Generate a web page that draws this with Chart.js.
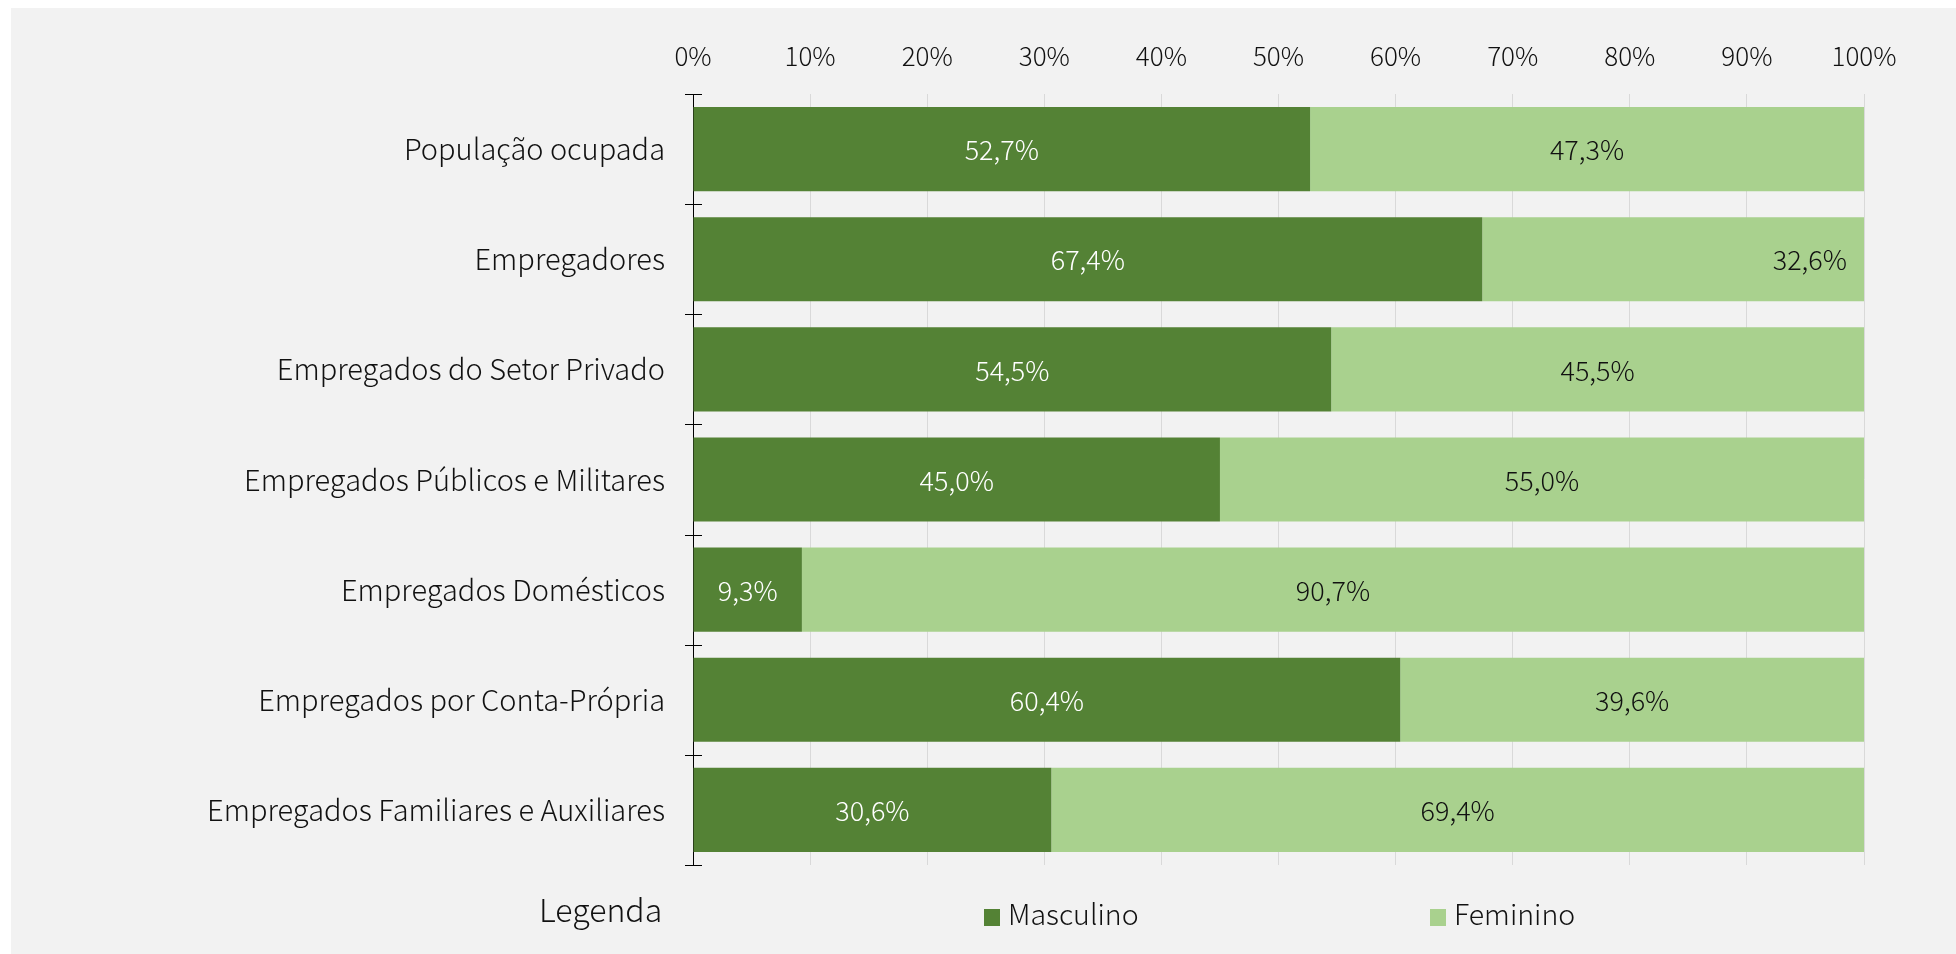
<!DOCTYPE html>
<html>
<head>
<meta charset="utf-8">
<script src="https://cdn.jsdelivr.net/npm/chart.js@4/dist/chart.umd.min.js"></script>
<style>
  html, body { margin: 0; padding: 0; background: #ffffff; }
  #wrap { position: relative; width: 1956px; height: 954px; }
  canvas { display: block; }
</style>
</head>
<body>
<div id="wrap"><canvas id="c" width="1956" height="954"></canvas></div>
<script>
// ---- data ----
const categories = [
  'População ocupada',
  'Empregadores',
  'Empregados do Setor Privado',
  'Empregados Públicos e Militares',
  'Empregados Domésticos',
  'Empregados por Conta-Própria',
  'Empregados Familiares e Auxiliares'
];
const seriesNames = ['Masculino', 'Feminino'];
const masculino = [52.7, 67.4, 54.5, 45.0, 9.3, 60.4, 30.6];
const feminino  = [47.3, 32.6, 45.5, 55.0, 90.7, 39.6, 69.4];
const legendTitle = 'Legenda';

// ---- style ----
const FONT = '"Noto Sans CJK JP", "Noto Sans", sans-serif';
const W = '300';
const DARK = '#548235';
const LIGHT = '#a9d18e';
const TEXT = '#111111';

function fmt(v) { return v.toFixed(1).replace('.', ',') + '%'; }

const panelPlugin = {
  id: 'panel',
  beforeDraw(chart) {
    const ctx = chart.ctx;
    ctx.save();
    ctx.fillStyle = '#f2f2f2';
    ctx.fillRect(11, 8, chart.width - 11, chart.height - 8);
    ctx.restore();
  }
};

const crossTicksPlugin = {
  id: 'crossTicks',
  afterDatasetsDraw(chart) {
    const y = chart.scales.y;
    const ctx = chart.ctx;
    const n = categories.length;
    const x0 = chart.chartArea.left;
    const step = y.getPixelForValue(1) - y.getPixelForValue(0);
    ctx.save();
    ctx.strokeStyle = '#000000';
    ctx.lineWidth = 1;
    ctx.beginPath();
    for (let i = 0; i <= n; i++) {
      let py = y.getPixelForValue(0) - step / 2 + i * step;
      py = Math.round(py) + 0.5;
      ctx.moveTo(x0 - 8, py);
      ctx.lineTo(x0 + 9, py);
    }
    ctx.stroke();
    ctx.restore();
  }
};

const valueLabelsPlugin = {
  id: 'valueLabels',
  afterDatasetsDraw(chart, args, opts) {
    const ctx = chart.ctx;
    ctx.save();
    ctx.font = W + ' 27px ' + FONT;
    ctx.textBaseline = 'middle';
    chart.data.datasets.forEach((ds, di) => {
      const meta = chart.getDatasetMeta(di);
      const endIdx = (opts.endAligned && opts.endAligned[di]) || [];
      meta.data.forEach((el, i) => {
        const p = el.getProps(['x', 'y', 'base'], true);
        const v = ds.data[i];
        ctx.fillStyle = di === 0 ? '#ffffff' : TEXT;
        if (endIdx.includes(i)) {
          ctx.textAlign = 'right';
          ctx.fillText(fmt(v), Math.max(p.x, p.base) - 17, p.y + 1);
        } else {
          ctx.textAlign = 'center';
          ctx.fillText(fmt(v), (p.x + p.base) / 2, p.y + 1);
        }
      });
    });
    ctx.restore();
  }
};

const legendPlugin = {
  id: 'customLegend',
  afterDraw(chart) {
    const ctx = chart.ctx;
    ctx.save();
    ctx.fillStyle = TEXT;
    ctx.textBaseline = 'alphabetic';
    ctx.textAlign = 'left';
    ctx.font = W + ' 32px ' + FONT;
    ctx.fillText(legendTitle, 539, 922);
    const items = [
      { x: 984, color: DARK, label: seriesNames[0] },
      { x: 1430, color: LIGHT, label: seriesNames[1] }
    ];
    ctx.font = W + ' 28.5px ' + FONT;
    items.forEach(it => {
      ctx.fillStyle = it.color;
      ctx.fillRect(it.x, 909, 16, 17);
      ctx.fillStyle = TEXT;
      ctx.fillText(it.label, it.x + 24, 925);
    });
    ctx.restore();
  }
};

new Chart(document.getElementById('c'), {
  type: 'bar',
  data: {
    labels: categories,
    datasets: [
      { label: seriesNames[0], data: masculino, backgroundColor: DARK, borderWidth: 0,
        categoryPercentage: 1.0, barPercentage: 0.764 },
      { label: seriesNames[1], data: feminino, backgroundColor: LIGHT, borderWidth: 0,
        categoryPercentage: 1.0, barPercentage: 0.764 }
    ]
  },
  options: {
    indexAxis: 'y',
    responsive: false,
    devicePixelRatio: 1,
    animation: false,
    layout: { padding: { left: 0, right: 92, top: 0, bottom: 89 } },
    plugins: {
      legend: { display: false },
      tooltip: { enabled: false },
      valueLabels: { endAligned: { 1: [1] } }
    },
    scales: {
      x: {
        position: 'top',
        stacked: true,
        min: 0,
        max: 100,
        ticks: {
          stepSize: 10,
          color: TEXT,
          padding: 22,
          font: { family: FONT, size: 26, weight: W },
          callback: v => v + '%'
        },
        grid: { color: '#d9d9d9', lineWidth: 1, drawTicks: false },
        border: { display: false },
        afterFit(scale) { scale.height = 94; }
      },
      y: {
        stacked: true,
        ticks: {
          color: TEXT,
          padding: 28,
          font: { family: FONT, size: 29, weight: W }
        },
        grid: { display: false, drawTicks: false },
        border: { display: true, color: '#000000', width: 1 },
        afterFit(scale) { scale.width = 693; }
      }
    }
  },
  plugins: [panelPlugin, valueLabelsPlugin, crossTicksPlugin, legendPlugin]
});
</script>
</body>
</html>
